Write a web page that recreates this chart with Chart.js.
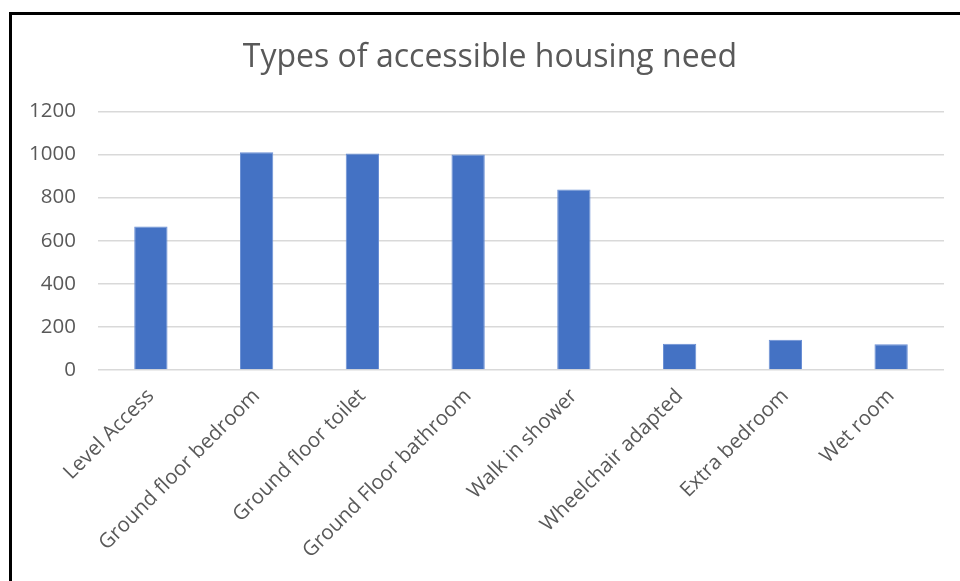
<!DOCTYPE html>
<html>
<head>
<meta charset="utf-8">
<script src="https://cdn.jsdelivr.net/npm/chart.js@4/dist/chart.umd.min.js"></script>
<style>
  html, body { margin: 0; padding: 0; background: #fff; overflow: hidden; }
  .frame {
    position: absolute; left: 9px; top: 12px;
    width: 960px; height: 580px;
    border-left: 3px solid #000; border-top: 3px solid #000;
  }
  .frame canvas { display: block; }
</style>
</head>
<body>
<div class="frame"><canvas id="needChart" width="948" height="566"></canvas></div>
<script>
// accessible housing need
const categories = [
  "Level Access", "Ground floor bedroom", "Ground floor toilet", "Ground Floor bathroom",
  "Walk in shower", "Wheelchair adapted", "Extra bedroom", "Wet room"
];
const needCounts = [666, 1010, 1005, 1000, 838, 122, 140, 119];
const yTicks = [0, 200, 400, 600, 800, 1000, 1200];

const textColor = "#595959";
const fontFamily = "'Open Sans', 'Noto Sans', sans-serif";

// the original title sits a bit right of the canvas centre
const shiftTitle = {
  id: "shiftTitle",
  afterLayout(chart) {
    if (chart.titleBlock) {
      chart.titleBlock.left += 12;
      chart.titleBlock.right += 12;
    }
  }
};

new Chart("needChart", {
  type: "bar",
  data: {
    labels: categories,
    datasets: [{
      data: needCounts,
      backgroundColor: "#4472C4",
      borderColor: "#6a8fd4",
      borderWidth: 1,
      categoryPercentage: 1,
      barPercentage: 0.315
    }]
  },
  plugins: [shiftTitle],
  options: {
    responsive: false,
    animation: false,
    layout: { padding: { left: 0, right: 16, top: 0, bottom: 0 } },
    plugins: {
      legend: { display: false },
      tooltip: { enabled: false },
      title: {
        display: true,
        text: "Types of accessible housing need",
        color: textColor,
        font: { family: fontFamily, size: 32, weight: "normal" },
        padding: { top: 24, bottom: 34 }
      }
    },
    scales: {
      x: {
        grid: { display: false },
        border: { display: false },
        ticks: {
          color: textColor,
          font: { family: fontFamily, size: 20.5 },
          minRotation: 45,
          maxRotation: 45,
          autoSkip: false,
          padding: 6
        },
        afterFit: function (scale) { scale.height = 211; }
      },
      y: {
        min: 0,
        max: 1200,
        afterBuildTicks: function (scale) {
          scale.ticks = yTicks.map(v => ({ value: v }));
        },
        grid: { color: "#d9d9d9", lineWidth: 1.5, drawTicks: false },
        border: { display: false },
        ticks: {
          color: textColor,
          font: { family: fontFamily, size: 20.5 },
          padding: 22,
          callback: function (value) { return String(value); }
        },
        afterFit: function (scale) { scale.width = 86; }
      }
    }
  }
});
</script>
</body>
</html>
